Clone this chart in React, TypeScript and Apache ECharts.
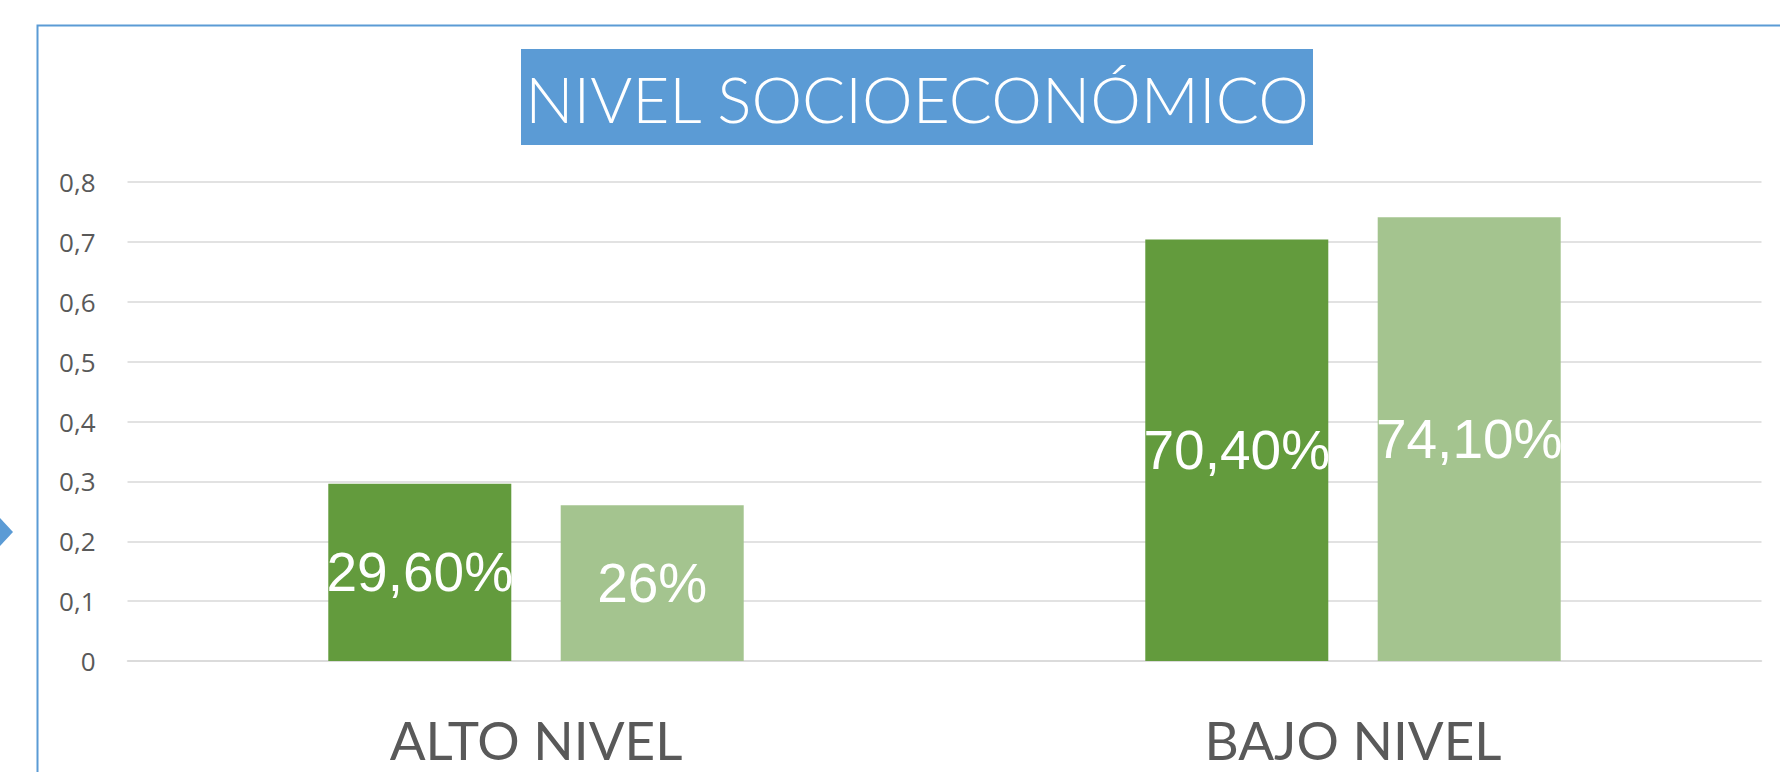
import React, { useEffect, useRef } from "react";
import * as echarts from "echarts";

const categories = ["ALTO NIVEL", "BAJO NIVEL"];
const serie1 = [0.296, 0.704];
const serie2 = [0.26, 0.741];
const labels1 = ["29,60%", "70,40%"];
const labels2 = ["26%", "74,10%"];
const yTicks = { min: 0, max: 0.8, interval: 0.1 };
const titleText = "NIVEL SOCIOECONÓMICO";

export default function App() {
  const ref = useRef<HTMLDivElement>(null);
  useEffect(() => {
    if (!ref.current) return;
    const chart = echarts.init(ref.current, null, { renderer: "svg" });
    chart.setOption({
      animation: false,
      backgroundColor: "#ffffff",
      grid: { left: 127.5, right: 18.5, top: 182, bottom: 111, containLabel: false },
      graphic: [
        {
          type: "rect",
          shape: { x: 37.5, y: 25.5, width: 2000, height: 1000 },
          style: { fill: "none", stroke: "#5B9BD5", lineWidth: 2 },
          silent: true,
        },
        {
          type: "polygon",
          shape: { points: [[0, 518], [13, 532], [0, 546]] },
          style: { fill: "#5B9BD5" },
          silent: true,
        },
        {
          type: "rect",
          shape: { x: 521, y: 49, width: 792, height: 96 },
          style: { fill: "#5B9BD5" },
          silent: true,
        },
        {
          type: "text",
          x: 917,
          y: 98,
          style: {
            text: titleText,
            fill: "#ffffff",
            font: '300 64px "Lato"',
            align: "center",
            verticalAlign: "middle",
          },
          silent: true,
        },
      ],
      xAxis: {
        type: "category",
        data: categories,
        axisLine: { show: true, lineStyle: { color: "#D9D9D9", width: 1.5 } },
        axisTick: { show: false },
        axisLabel: {
          color: "#595959",
          fontFamily: "Lato",
          fontSize: 53,
          lineHeight: 48,
          margin: 54,
        },
      },
      yAxis: {
        type: "value",
        min: yTicks.min,
        max: yTicks.max,
        interval: yTicks.interval,
        axisLine: { show: false },
        axisTick: { show: false },
        splitLine: { lineStyle: { color: "#D9D9D9", width: 1.5 } },
        axisLabel: {
          color: "#595959",
          fontFamily: "Open Sans",
          fontSize: 26,
          margin: 32,
          formatter: (v: number) => String(Math.round(v * 10) / 10).replace(".", ","),
        },
      },
      series: [
        {
          name: "Serie 1",
          type: "bar",
          data: serie1,
          barWidth: "22.4%",
          barGap: "27%",
          itemStyle: { color: "#639B3D" },
          label: {
            show: true,
            position: "inside",
            color: "#ffffff",
            fontFamily: "Liberation Sans",
            fontSize: 55,
            formatter: (p: any) => labels1[p.dataIndex],
          },
        },
        {
          name: "Serie 2",
          type: "bar",
          data: serie2,
          barWidth: "22.4%",
          barGap: "27%",
          itemStyle: { color: "#A4C48F" },
          label: {
            show: true,
            position: "inside",
            color: "#ffffff",
            fontFamily: "Liberation Sans",
            fontSize: 55,
            formatter: (p: any) => labels2[p.dataIndex],
          },
        },
      ],
    });
    return () => chart.dispose();
  }, []);
  return (
    <div
      ref={ref}
      style={{ position: "absolute", left: 0, top: 0, width: 1780, height: 772 }}
    />
  );
}
